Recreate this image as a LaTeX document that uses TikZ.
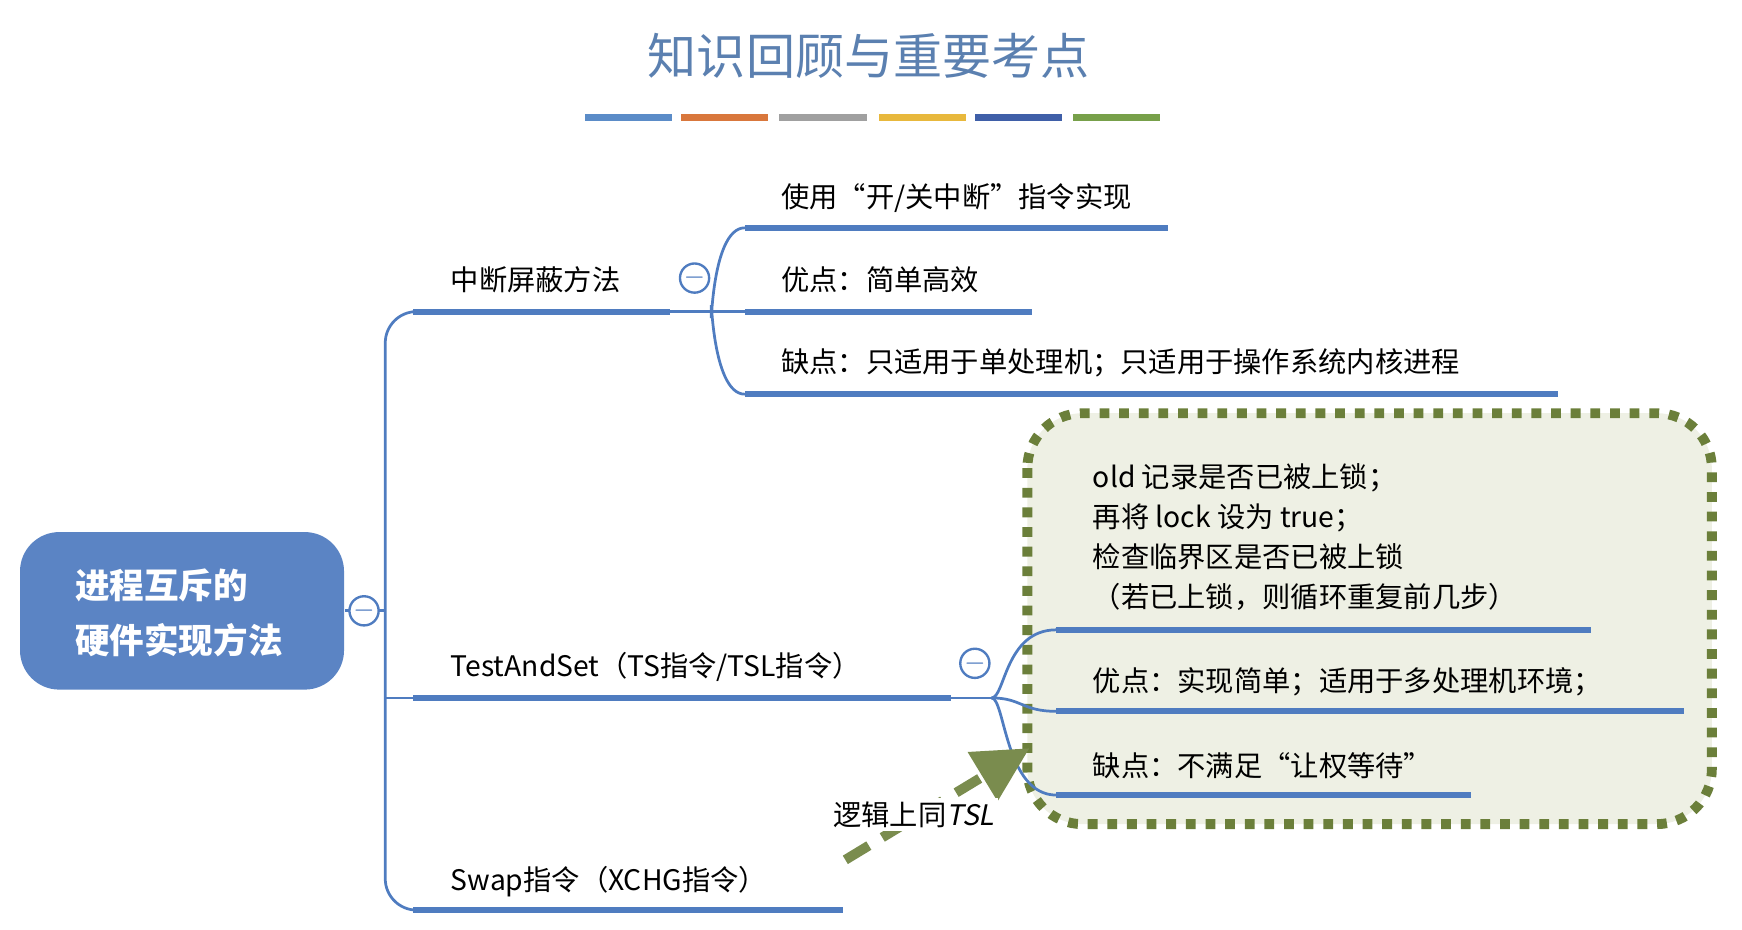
\documentclass[tikz,border=0pt]{standalone}
\usepackage{fontspec}
\setmainfont{Noto Sans CJK SC}
\newfontfamily\slantfont{Noto Sans CJK SC}[FakeSlant=0.2]
\usetikzlibrary{arrows.meta}
\definecolor{linkblue}{HTML}{4F7CC0}
\definecolor{rootblue}{HTML}{5B84C4}
\definecolor{titleblue}{HTML}{5B80B0}
\definecolor{boxgreen}{HTML}{6B7F3A}
\definecolor{boxfill}{HTML}{EEF0E4}
\definecolor{b1}{HTML}{5B8CC8}\definecolor{b2}{HTML}{D9773C}\definecolor{b3}{HTML}{A0A0A0}
\definecolor{b4}{HTML}{E8B83C}\definecolor{b5}{HTML}{3F5FA8}\definecolor{b6}{HTML}{77A04A}
\tikzset{
  topic/.style={anchor=base west,inner sep=0pt,font=\fontsize{7.2}{9}\selectfont},
  uline/.style={linkblue,line width=1.5pt},
  link/.style={linkblue,line width=0.7pt},
  fold/.style={circle,draw=linkblue,fill=white,line width=0.6pt,minimum size=0.24cm,inner sep=0pt,font=\fontsize{6}{6}\selectfont,text=linkblue}
}
\begin{document}
\begin{tikzpicture}[x=0.01cm,y=-0.01cm]
  \useasboundingbox (0,0) rectangle (1560,832);
  % title and colour bars
  \node[font=\fontsize{12.5}{14}\selectfont,text=titleblue] (title) at (778,50) {知识回顾与重要考点};
  \foreach \i/\a in {1/524,2/610,3/698,4/787,5/873,6/961}
    \fill[b\i] (\a,102) rectangle ++(78,6);

  % green box
  \draw[boxgreen,fill=boxfill,line width=2.5pt,dash pattern=on 2.5pt off 2.5pt,rounded corners=14] (920,370) rectangle (1533,738);

  % root
  \node[fill=rootblue,rounded corners=10,minimum width=2.9cm,minimum height=1.41cm] (root) at (163,547) {};
  \node[anchor=west,text=white,font=\bfseries\fontsize{8.8}{14}\selectfont,align=left] (roottext) at (55,549) {进程互斥的\\硬件实现方法};

  % trunk
  \draw[link] (root.east) -- (345,547);
  \draw[link,rounded corners=8] (370,279) -- (345,279) -- (345,815) -- (370,815);
  \draw[link] (345,625) -- (370,625);
  \node[fold] (f0) at (326,547) {$-$};

  % branch 1
  \node[topic] (b1) at (403,260) {中断屏蔽方法};
  \draw[uline] (370,279) coordinate (b1s) -- (600,279) coordinate (b1e);
  \draw[link] (b1e) -- (637,279) coordinate (j1);
  \node[fold] (f1) at (622,249) {$-$};
  \node[topic] (s11) at (699,186) {使用“开/关中断”指令实现};
  \node[topic] (s12) at (699,260) {优点：简单高效};
  \node[topic] (s13) at (699,334) {缺点：只适用于单处理机；只适用于操作系统内核进程};
  \draw[link] (j1) to[out=-90,in=180] (667,204) coordinate (u11);
  \draw[link] (j1) -- (667,279) coordinate (u12);
  \draw[link] (j1) to[out=90,in=180] (667,353) coordinate (u13);
  \draw[uline] (u11) -- (1046,204);
  \draw[uline] (u12) -- (924,279);
  \draw[uline] (u13) -- (1395,353);

  % branch 2
  \node[topic] (b2) at (403,606) {TestAndSet（TS指令/TSL指令）};
  \draw[uline] (370,625) coordinate (b2s) -- (852,625) coordinate (b2e);
  \draw[link] (b2e) -- (888,625) coordinate (j2);
  \node[fold] (f2) at (873,594) {$-$};
  \node[topic,align=left,anchor=north west,font=\fontsize{7.2}{10.2}\selectfont] (s21) at (978,414) {old 记录是否已被上锁；\\再将 lock 设为 true；\\检查临界区是否已被上锁\\（若已上锁，则循环重复前几步）};
  \node[topic] (s22) at (978,619) {优点：实现简单；适用于多处理机环境；};
  \node[topic] (s23) at (978,695) {缺点：不满足“让权等待”};
  \draw[link] (j2) .. controls (900,625) and (900,564) .. (946,564) coordinate (u21);
  \draw[link] (j2) .. controls (915,625) and (915,637) .. (946,637) coordinate (u22);
  \draw[link] (j2) .. controls (900,625) and (900,712) .. (946,712) coordinate (u23);
  \draw[uline] (u21) -- (1425,564);
  \draw[uline] (u22) -- (1508,637);
  \draw[uline] (u23) -- (1317,712);

  % branch 3
  \node[topic] (b3) at (403,797) {Swap指令（XCHG指令）};
  \draw[uline] (370,815) coordinate (b3s) -- (755,815) coordinate (b3e);

  % same-as arrow
  \coordinate (a0) at (757,770);
  \coordinate (a1) at (922,670);
  \draw[boxgreen!90,line width=2.5pt,dash pattern=on 7pt off 4pt,-{Triangle[length=14pt,width=14pt]}] (a0) -- (a1);
  \node[topic,fill=white,inner sep=1pt] (lbl) at (742,739) {逻辑上同{\slantfont TSL}};
\end{tikzpicture}
\end{document}
